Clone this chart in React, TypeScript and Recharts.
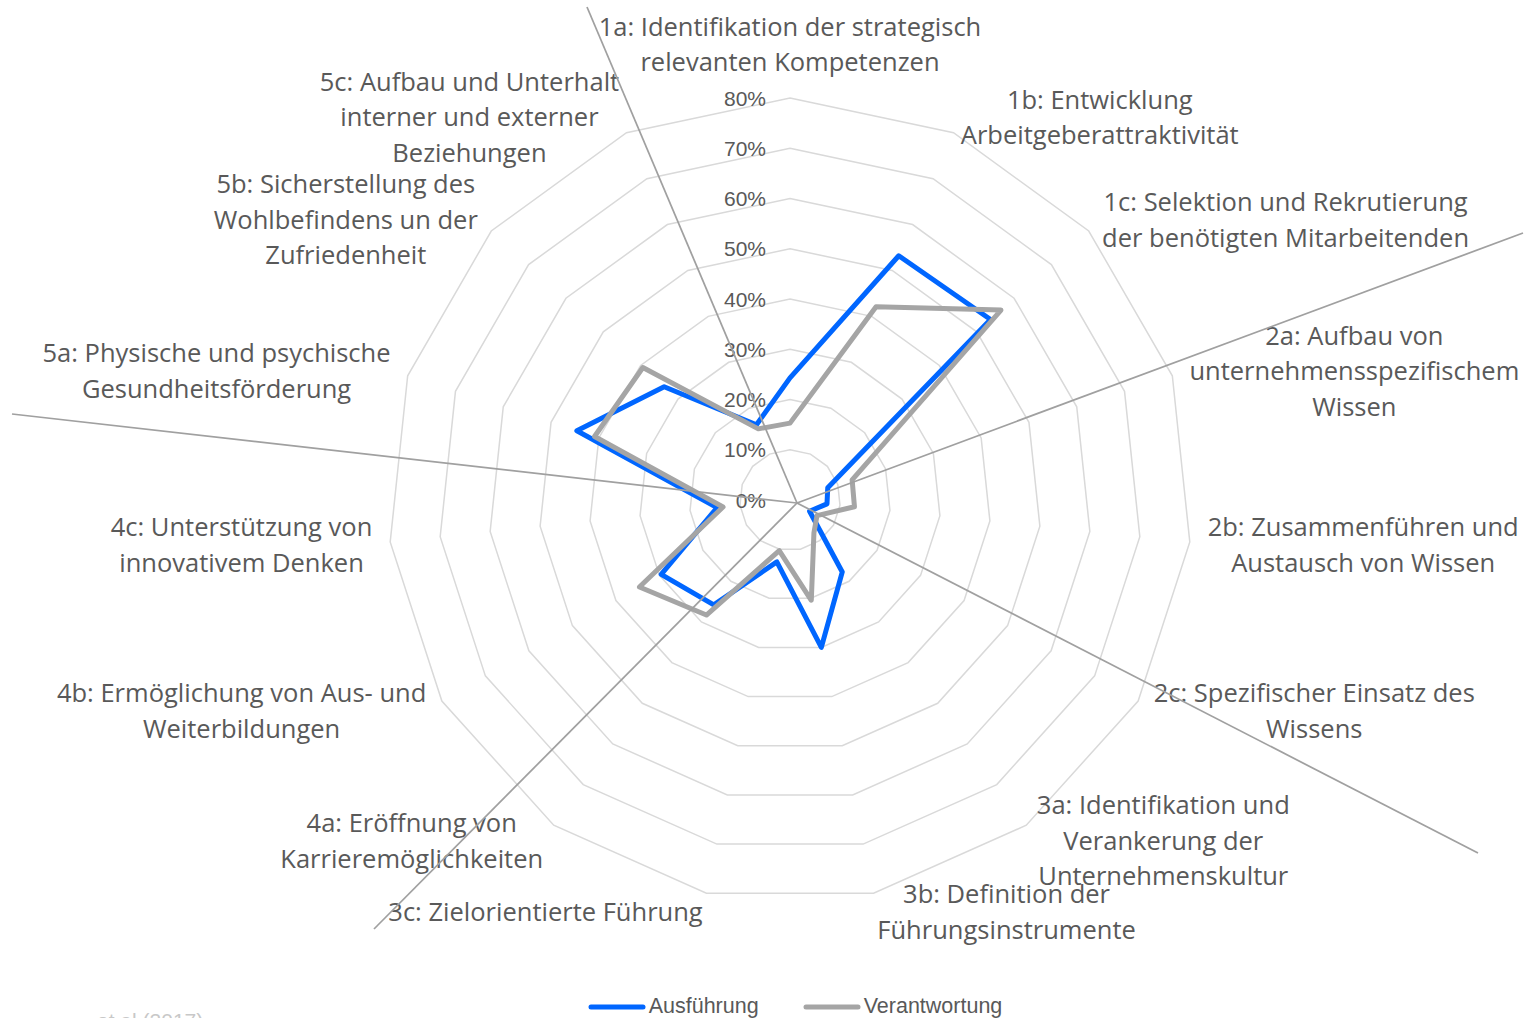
import React from "react";
import {
    RadarChart,
    Radar,
    PolarGrid,
    PolarAngleAxis,
    PolarRadiusAxis,
    Legend,
} from "recharts";

// Kategorien (Uhrzeigersinn ab oben)
const categories = [
    "1a", "1b", "1c", "2a", "2b", "2c", "3a", "3b", "3c",
    "4a", "4b", "4c", "5a", "5b", "5c",
];

const labelLines = [
    ["1a: Identifikation der strategisch", "relevanten Kompetenzen"],
    ["1b: Entwicklung", "Arbeitgeberattraktivität"],
    ["1c: Selektion und Rekrutierung", "der benötigten Mitarbeitenden"],
    ["2a: Aufbau von", "unternehmensspezifischem", "Wissen"],
    ["2b: Zusammenführen und", "Austausch von Wissen"],
    ["2c: Spezifischer Einsatz des", "Wissens"],
    ["3a: Identifikation und", "Verankerung der", "Unternehmenskultur"],
    ["3b: Definition der", "Führungsinstrumente"],
    ["3c: Zielorientierte Führung"],
    ["4a: Eröffnung von", "Karrieremöglichkeiten"],
    ["4b: Ermöglichung von Aus- und", "Weiterbildungen"],
    ["4c: Unterstützung von", "innovativem Denken"],
    ["5a: Physische und psychische", "Gesundheitsförderung"],
    ["5b: Sicherstellung des", "Wohlbefindens un der", "Zufriedenheit"],
    ["5c: Aufbau und Unterhalt", "interner und externer", "Beziehungen"],
];

// Werte in %
const ausfuehrung = [
    24.3, 53.2, 53.7, 7.9, 7.4, 4.5, 17.7, 30.0, 12.6,
    25.8, 29.6, 14.6, 44.6, 33.7, 16.4,
];
const verantwortung = [
    15.3, 42.1, 56.5, 13.0, 12.9, 6.2, 8.1, 20.4, 10.3,
    28.3, 34.6, 13.4, 40.9, 39.4, 15.5,
];

const radiusTicks = [0, 10, 20, 30, 40, 50, 60, 70, 80];

const series = [
    { key: "ausfuehrung", name: "Ausführung", color: "#0066ff" },
    { key: "verantwortung", name: "Verantwortung", color: "#a5a5a5" },
];

// Trennlinien zwischen den Gruppen (Zeichnung über dem Diagramm)
const separatorHub = { x: 797, y: 503 };
const separatorEnds = [
    { x: 587, y: 7 },
    { x: 1523, y: 233 },
    { x: 1478, y: 853 },
    { x: 374, y: 929 },
    { x: 12, y: 414 },
];

const data = categories.map((cat, i) => ({
    cat,
    ausfuehrung: ausfuehrung[i],
    verantwortung: verantwortung[i],
}));

const WIDTH = 1528;
const HEIGHT = 1018;
const CX = 790;
const CY = 500;
const RADIUS = 402;

const TEXT = "#595959";
const LABEL_FONT = 25.5;
const LABEL_LINE = 35.5;
const LABEL_GAP = 18;

let ctx: CanvasRenderingContext2D | null = null;
const measure = (s: string) => {
    if (!ctx) ctx = document.createElement("canvas").getContext("2d");
    if (!ctx) return s.length * LABEL_FONT * 0.45;
    ctx.font = `${LABEL_FONT}px "Open Sans"`;
    return ctx.measureText(s).width;
};

const AngleTick = (props: any) => {
    const { x, y, payload } = props;
    const idx = categories.indexOf(payload.value);
    const lines = labelLines[idx] ?? [String(payload.value)];
    const dx = x - CX;
    const dy = y - CY;
    const len = Math.hypot(dx, dy) || 1;
    const ux = dx / len;
    const uy = dy / len;
    const px = CX + ux * (RADIUS + LABEL_GAP);
    const py = CY + uy * (RADIUS + LABEL_GAP);
    const w = Math.max(...lines.map(measure));
    const n = lines.length;

    let centerX = px;
    let centerY = py;
    if (Math.abs(ux) < 0.05) {
        centerY = uy < 0 ? py - (n * LABEL_LINE) / 2 - 1 : py + (n * LABEL_LINE) / 2;
    } else {
        centerX = ux > 0 ? px + w / 2 : px - w / 2;
    }
    const firstY = centerY - ((n - 1) * LABEL_LINE) / 2;

    return (
        <g>
            {lines.map((line, i) => (
                <text
                    key={i}
                    x={centerX}
                    y={firstY + i * LABEL_LINE}
                    textAnchor="middle"
                    dominantBaseline="central"
                    fontFamily="'Open Sans', sans-serif"
                    fontSize={LABEL_FONT}
                    fill={TEXT}
                >
                    {line}
                </text>
            ))}
        </g>
    );
};

const RadiusTick = (props: any) => {
    const { x, y, payload } = props;
    return (
        <text
            x={x - 24}
            y={y}
            textAnchor="end"
            dominantBaseline="central"
            fontFamily="'Liberation Sans', Arial, sans-serif"
            fontSize={21}
            fill={TEXT}
        >
            {`${payload.value}%`}
        </text>
    );
};

const renderLegend = (props: any) => {
    const items = props.payload ?? [];
    return (
        <div
            style={{
                display: "flex",
                justifyContent: "center",
                gap: 44,
                fontFamily: "'Liberation Sans', Arial, sans-serif",
                fontSize: 21.5,
                color: TEXT,
            }}
        >
            {items.map((item: any) => (
                <div
                    key={item.value}
                    style={{ display: "flex", alignItems: "center", gap: 3 }}
                >
                    <svg width={58} height={10}>
                        <line
                            x1={3}
                            y1={5}
                            x2={55}
                            y2={5}
                            stroke={item.color}
                            strokeWidth={5}
                            strokeLinecap="round"
                        />
                    </svg>
                    <span>{item.value}</span>
                </div>
            ))}
        </div>
    );
};

const App = () => {
    return (
        <div
            style={{
                position: "absolute",
                left: 0,
                top: 0,
                width: WIDTH,
                height: HEIGHT,
                overflow: "hidden",
                background: "#fff",
                fontFamily: "sans-serif",
            }}
        >
            <RadarChart
                width={WIDTH}
                height={HEIGHT}
                data={data}
                cx={CX}
                cy={CY}
                outerRadius={RADIUS}
                startAngle={90}
                endAngle={-270}
            >
                <PolarGrid
                    gridType="polygon"
                    radialLines={false}
                    stroke="#d9d9d9"
                    strokeWidth={1.5}
                />
                <PolarAngleAxis
                    dataKey="cat"
                    tick={AngleTick}
                    axisLine={false}
                    tickLine={false}
                />
                <PolarRadiusAxis
                    angle={90}
                    domain={[0, 80]}
                    ticks={radiusTicks}
                    tick={RadiusTick}
                    axisLine={false}
                    tickLine={false}
                />
                {series.map((s) => (
                    <Radar
                        key={s.key}
                        dataKey={s.key}
                        name={s.name}
                        stroke={s.color}
                        strokeWidth={5}
                        strokeLinejoin="round"
                        fill="none"
                        fillOpacity={0}
                        dot={false}
                        isAnimationActive={false}
                    />
                ))}
                <Legend
                    content={renderLegend}
                    wrapperStyle={{
                        position: "absolute",
                        left: 31,
                        top: 994,
                        width: WIDTH,
                    }}
                />
            </RadarChart>
            <svg
                width={WIDTH}
                height={HEIGHT}
                style={{ position: "absolute", left: 0, top: 0, pointerEvents: "none" }}
            >
                {separatorEnds.map((p, i) => (
                    <line
                        key={i}
                        x1={separatorHub.x}
                        y1={separatorHub.y}
                        x2={p.x}
                        y2={p.y}
                        stroke="#a0a0a0"
                        strokeWidth={1.75}
                    />
                ))}
                <text
                    x={97}
                    y={1028}
                    fontFamily="'Liberation Sans', Arial, sans-serif"
                    fontSize={21}
                    fill="#c8c8c8"
                >
                    et al (2017)
                </text>
            </svg>
        </div>
    );
};

export default App;
